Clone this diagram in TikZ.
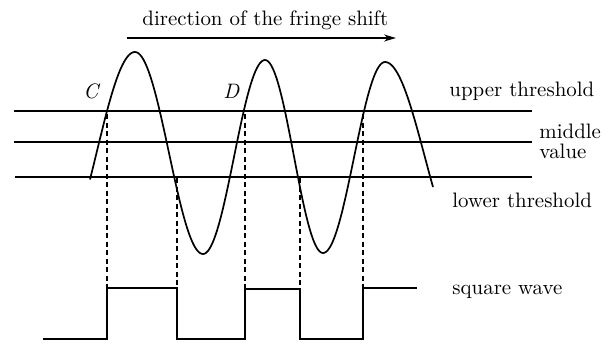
\documentclass[tikz,border=0pt]{standalone}
\usetikzlibrary{arrows.meta}
\begin{document}
\begin{tikzpicture}[x=1pt,y=-1pt,
  lbl/.style={anchor=base west,inner sep=0pt,font=\fontsize{10}{12}\selectfont,scale=2.09,transform shape},
  thr/.style={line width=1.5pt},
  wave/.style={line width=1.7pt},
  guide/.style={line width=1.5pt,dash pattern=on 5pt off 3.5pt},
  sq/.style={line width=1.7pt}]
\useasboundingbox (0,0) rectangle (616,343);
% labels
\node[lbl] (dir) at (142,25) {direction of the fringe shift};
\node[lbl] (up) at (449,96) {upper threshold};
\node[lbl] (mid) at (539,138) {middle};
\node[lbl] (val) at (539,158) {value};
\node[lbl] (low) at (452,207) {lower threshold};
\node[lbl] (sqw) at (452,294) {square wave};
\node[lbl] (C) at (83,98) {\itshape C};
\node[lbl] (D) at (223,98) {\itshape D};
% arrow
\coordinate (a0) at (127,38);
\coordinate (a1) at (396,38);
\draw[line width=1.4pt,-{Stealth[length=12pt,width=7pt]}] (a0) -- (a1);
% thresholds
\coordinate (u0) at (14,111); \coordinate (u1) at (532,111);
\coordinate (m0) at (14,142); \coordinate (m1) at (532,142);
\coordinate (l0) at (15,177); \coordinate (l1) at (532,177);
\draw[thr] (u0) -- (u1);
\draw[thr] (m0) -- (m1);
\draw[thr] (l0) -- (l1);
% sine wave
\draw[wave,samples=40]
  plot[domain=90:135] (\x,{153-101*cos(180*(\x-135)/77)})
  -- plot[domain=135:203] (\x,{153-101*cos(180*(\x-135)/68)})
  -- plot[domain=203:265] (\x,{157-97*cos(180*(\x-265)/62)})
  -- plot[domain=265:323] (\x,{156.5-96.5*cos(180*(\x-265)/58)})
  -- plot[domain=323:385] (\x,{157.5-95.5*cos(180*(\x-385)/62)})
  -- plot[domain=385:433] (\x,{157.5-95.5*cos(180*(\x-385)/80)});
% square wave
\coordinate (s0) at (43,339);
\coordinate (r1) at (107,288);
\coordinate (f1) at (177,288);
\coordinate (r2) at (245,289);
\coordinate (f2) at (300,289);
\coordinate (r3) at (363,288);
\coordinate (s1) at (417,288);
\draw[sq] (s0) -| (r1) -- (f1) |- (245,339) -- (r2) -- (f2) |- (363,339) -- (r3) -- (s1);
% dashed guides
\draw[guide] (107,114) -- (r1);
\draw[guide] (177,178) -- (f1);
\draw[guide] (245,114) -- (r2);
\draw[guide] (300,178) -- (f2);
\draw[guide] (363,114) -- (r3);
\end{tikzpicture}
\end{document}
